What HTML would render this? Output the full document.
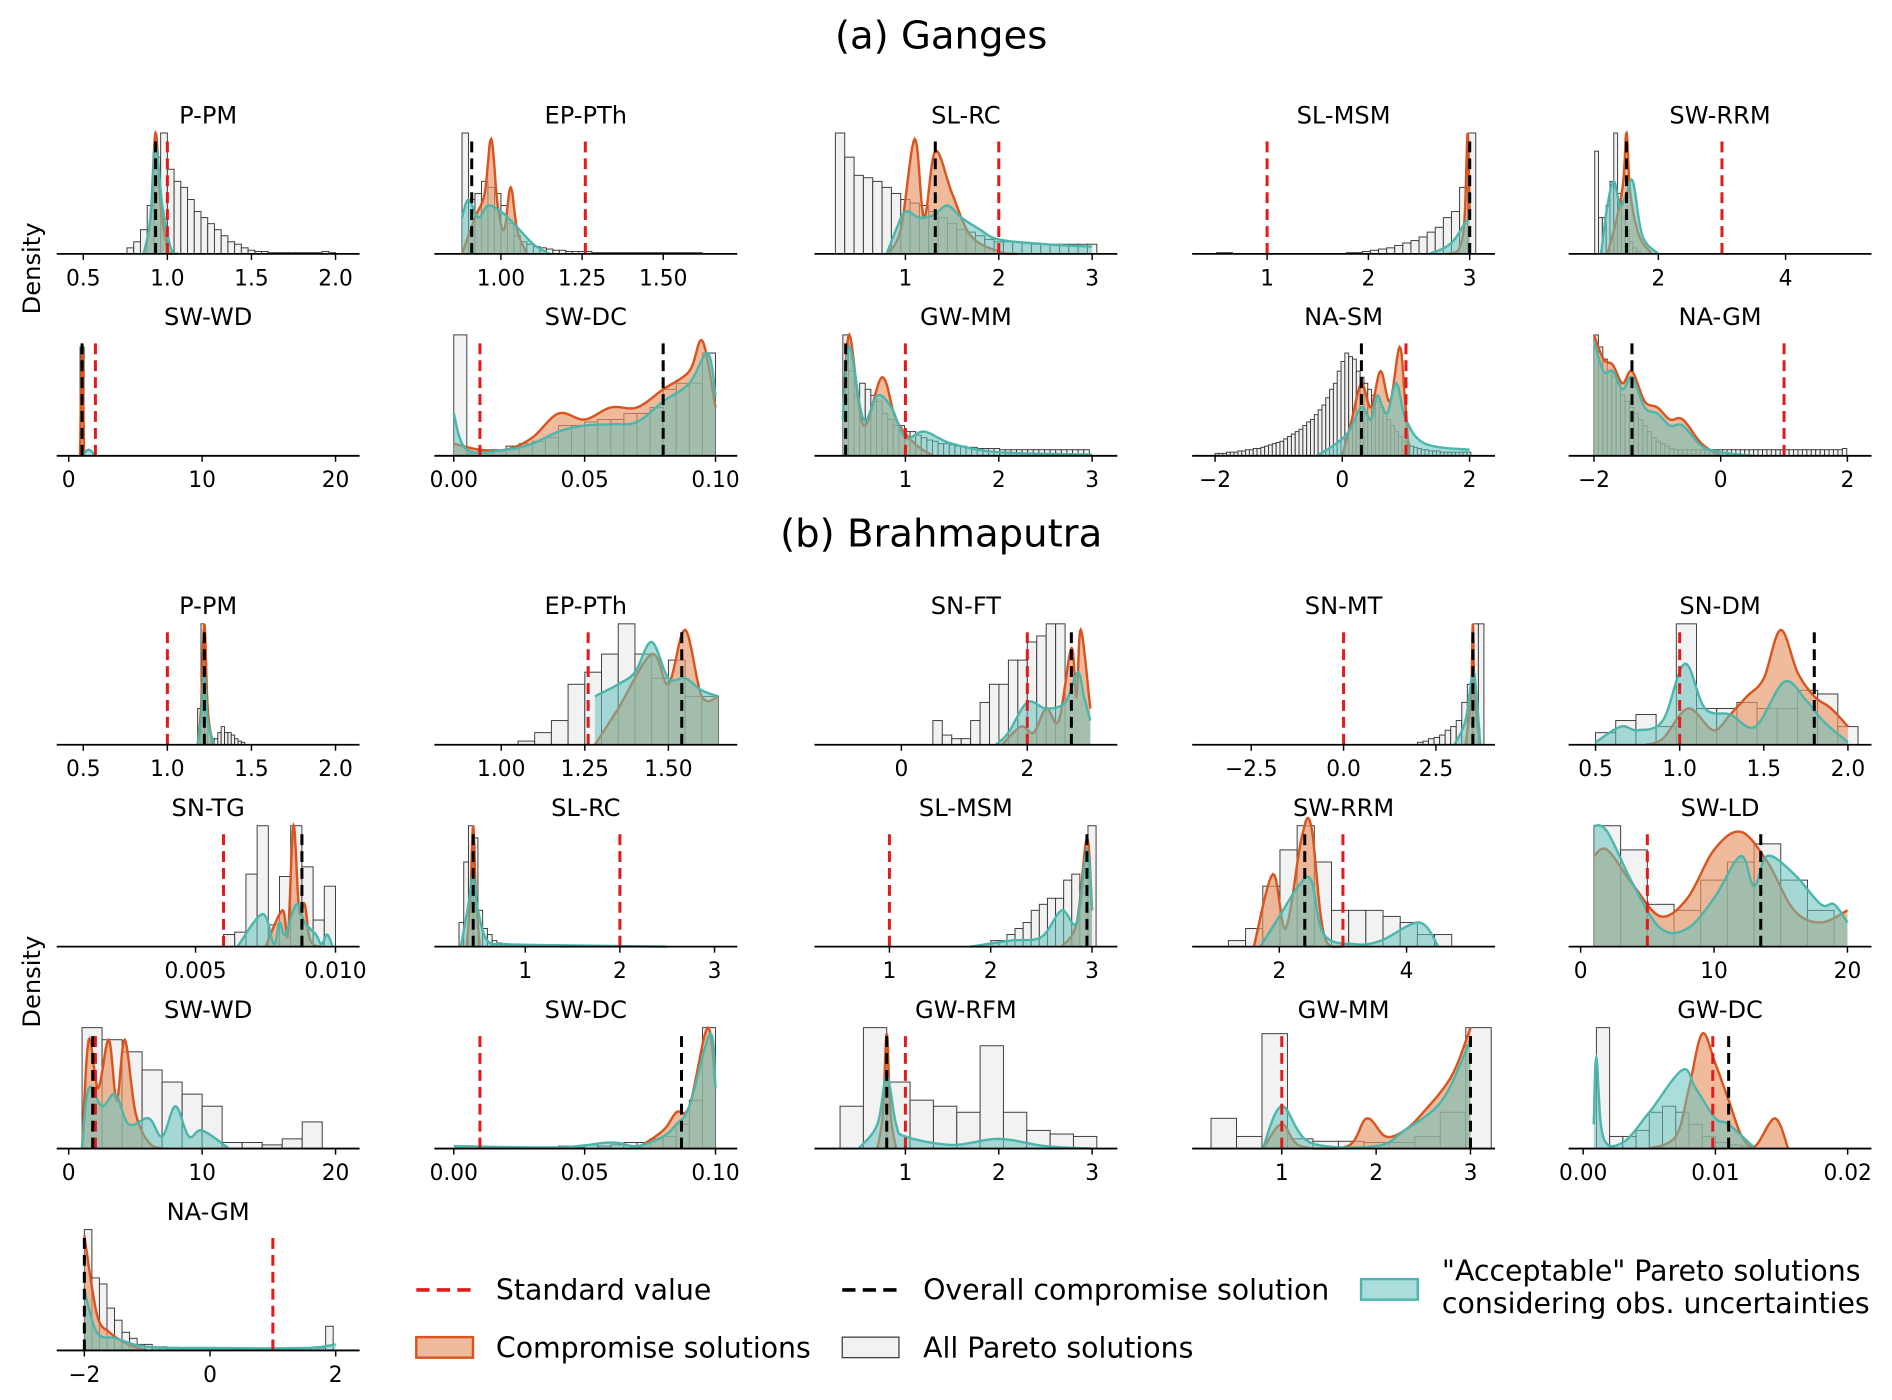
<!DOCTYPE html>
<html><head><meta charset="utf-8"><style>
html,body{margin:0;padding:0;background:#fff;}
svg{display:block;font-family:"Liberation Sans","DejaVu Sans",sans-serif;}
</style></head><body>
<svg id="fig" xmlns="http://www.w3.org/2000/svg" width="1892" height="1400" viewBox="0 0 1568 1158" preserveAspectRatio="none">
<text x="780" y="40" font-size="32" text-anchor="middle" font-family="DejaVu Sans, sans-serif">(a) Ganges</text>
<text x="780" y="452" font-size="32" text-anchor="middle" font-family="DejaVu Sans, sans-serif">(b) Brahmaputra</text>
<text transform="translate(33,222) rotate(-90)" font-size="20" text-anchor="middle" font-family="DejaVu Sans, sans-serif">Density</text>
<text transform="translate(33,812) rotate(-90)" font-size="20" text-anchor="middle" font-family="DejaVu Sans, sans-serif">Density</text>
<g id="panels"></g>
<g font-size="23.5" font-family="DejaVu Sans, sans-serif">
  <line x1="345" y1="1067" x2="395" y2="1067" stroke="#e31a1c" stroke-width="3" stroke-dasharray="11,6"/>
  <text x="411" y="1075">Standard value</text>
  <line x1="698" y1="1067" x2="748" y2="1067" stroke="#000" stroke-width="3" stroke-dasharray="11,6"/>
  <text x="765" y="1075">Overall compromise solution</text>
  <rect x="1128" y="1058" width="47" height="17" fill="rgba(102,194,187,0.55)" stroke="#4db6ac" stroke-width="2"/>
  <text x="1195" y="1059">"Acceptable" Pareto solutions</text>
  <text x="1195" y="1086">considering obs. uncertainties</text>
  <rect x="345" y="1106" width="47" height="17" fill="rgba(232,150,105,0.65)" stroke="#d9541e" stroke-width="2"/>
  <text x="411" y="1123">Compromise solutions</text>
  <rect x="698" y="1106" width="47" height="17" fill="#f2f2f2" stroke="#333" stroke-width="1"/>
  <text x="765" y="1123">All Pareto solutions</text>
</g>
</svg>
<script>
const titles = ["P-PM","EP-PTh","SL-RC","SL-MSM","SW-RRM","SW-WD","SW-DC","GW-MM","NA-SM","NA-GM",
 "P-PM","EP-PTh","SN-FT","SN-MT","SN-DM","SN-TG","SL-RC","SL-MSM","SW-RRM","SW-LD","SW-WD","SW-DC","GW-RFM","GW-MM","GW-DC","NA-GM"];
const xDomains = [[0.342,2.143],[0.795,1.728],[0.026,3.27],[0.26,3.25],[0.59,5.35],[-0.9,21.8],[-0.0074,0.1083],[0.026,3.27],[-2.36,2.4],[-2.4,2.38],
 [0.342,2.143],[0.80,1.706],[-1.38,3.43],[-4.1,4.1],[0.34,2.14],[0.00004,0.01086],[0.04,3.24],[0.26,3.25],[0.63,5.39],[-0.9,21.8],[-0.9,21.8],[-0.0074,0.1083],[0.026,3.27],[0.05,3.26],[-0.0011,0.0218],[-2.44,2.38]];
const tickVals = [[0.5,1,1.5,2],[1,1.25,1.5],[1,2,3],[1,2,3],[2,4],[0,10,20],[0,0.05,0.1],[1,2,3],[-2,0,2],[-2,0,2],
 [0.5,1,1.5,2],[1,1.25,1.5],[0,2],[-2.5,0,2.5],[0.5,1,1.5,2],[0.005,0.01],[1,2,3],[1,2,3],[2,4],[0,10,20],[0,10,20],[0,0.05,0.1],[1,2,3],[1,2,3],[0,0.01,0.02],[-2,0,2]];
const tickLabels = [["0.5","1.0","1.5","2.0"],["1.00","1.25","1.50"],["1","2","3"],["1","2","3"],["2","4"],["0","10","20"],["0.00","0.05","0.10"],["1","2","3"],["\u22122","0","2"],["\u22122","0","2"],
 ["0.5","1.0","1.5","2.0"],["1.00","1.25","1.50"],["0","2"],["\u22122.5","0.0","2.5"],["0.5","1.0","1.5","2.0"],["0.005","0.010"],["1","2","3"],["1","2","3"],["2","4"],["0","10","20"],["0","10","20"],["0.00","0.05","0.10"],["1","2","3"],["1","2","3"],["0.00","0.01","0.02"],["\u22122","0","2"]];
const stdVals = [1.0,1.26,2.0,1.0,3.0,2.0,0.01,1.0,1.0,1.0, 1.0,1.26,2.0,0.0,1.0,0.006,2.0,1.0,3.0,5.0,2.0,0.01,1.0,1.0,0.0098,1.0];
const compVals = [0.93,0.91,1.32,3.0,1.5,1.0,0.08,0.36,0.3,-1.4, 1.22,1.54,2.7,3.5,1.8,0.0088,0.45,2.95,2.4,13.5,1.8,0.087,0.8,3.0,0.011,-2.0];
const histStart = [0.76,0.88,0.25,0.5,1.0,0.85,0.0,0.33,-2.0,-2.0, 1.18,1.05,0.5,2.0,0.5,0.006,0.3,2.0,1.2,1.0,1.0,0.04,0.3,0.25,0.001,-2.0];
const histWidth = [0.04,0.02,0.1,0.08,0.06,0.3,0.005,0.06,0.06,0.07, 0.02,0.05,0.15,0.15,0.12,0.0004,0.05,0.08,0.27,2.0,1.5,0.005,0.25,0.27,0.001,0.12];
const histCounts = [
 [0.05,0.1,0.2,0.4,0.8,1.0,0.7,0.6,0.55,0.45,0.35,0.3,0.25,0.2,0.15,0.1,0.08,0.05,0.03,0.02,0.02,0.01,0.01,0.01,0.01,0.01,0.01,0.01,0.01,0.02,0.01],
 [1.0,0.45,0.5,0.6,0.55,0.5,0.4,0.25,0.15,0.1,0.08,0.06,0.05,0.04,0.03,0.03,0.02,0.02,0.02,0.02,0.01,0.01,0.01,0.01,0.01,0.01,0.01,0.01,0.01,0.01,0.01,0.01,0.01,0.01,0.01,0.01,0.01],
 [1.0,0.8,0.65,0.63,0.6,0.55,0.5,0.45,0.42,0.4,0.35,0.3,0.25,0.2,0.18,0.15,0.12,0.1,0.1,0.1,0.09,0.08,0.08,0.08,0.08,0.08,0.08,0.08],
 [0.01,0.01,0,0,0,0,0,0,0,0,0,0,0,0,0,0,0.01,0.01,0.02,0.03,0.04,0.05,0.07,0.09,0.11,0.14,0.18,0.22,0.3,0.35,0.55,1.0],
 [0.85,0.3,0.3,0.4,0.6,1.0,0.5,0.3,0.2,0.1,0.05,0.02],
 [0.9],
 [1.0,0.02,0.05,0.05,0.08,0.1,0.12,0.15,0.25,0.25,0.28,0.3,0.3,0.35,0.35,0.4,0.55,0.6,0.6,0.85],
 [1.0,0.7,0.5,0.6,0.55,0.5,0.45,0.35,0.3,0.25,0.25,0.2,0.2,0.17,0.15,0.13,0.12,0.1,0.1,0.09,0.08,0.08,0.07,0.07,0.06,0.06,0.06,0.06,0.05,0.05,0.05,0.05,0.05,0.05,0.05,0.05,0.05,0.05,0.05,0.05,0.05,0.05,0.05,0.05],
 [0.02,0.02,0.02,0.03,0.03,0.03,0.04,0.04,0.05,0.05,0.06,0.06,0.07,0.08,0.09,0.1,0.11,0.12,0.14,0.16,0.18,0.2,0.22,0.25,0.28,0.3,0.34,0.38,0.42,0.48,0.55,0.6,0.7,0.78,0.85,0.82,0.8,0.7,0.65,0.6,0.55,0.5,0.45,0.4,0.35,0.3,0.25,0.2,0.16,0.12,0.1,0.08,0.07,0.06,0.05,0.05,0.04,0.04,0.04,0.03,0.03,0.03,0.03,0.03,0.03,0.03,0.03],
 [1.0,0.9,0.8,0.7,0.65,0.6,0.5,0.45,0.4,0.35,0.3,0.25,0.2,0.15,0.12,0.1,0.08,0.06,0.05,0.05,0.05,0.05,0.05,0.05,0.05,0.05,0.05,0.05,0.05,0.05,0.05,0.05,0.05,0.05,0.05,0.05,0.05,0.05,0.05,0.05,0.05,0.05,0.05,0.05,0.05,0.05,0.05,0.05,0.05,0.05,0.05,0.05,0.05,0.05,0.05,0.05,0.06],
 [0.3,1.0,0.4,0.1,0.05,0.05,0.1,0.15,0.1,0.1,0.08,0.05,0.03,0.02],
 [0.03,0.1,0.2,0.5,0.6,0.75,1.0,0.75,0.55,0.7,0.4,0.4],
 [0.2,0.08,0.05,0.05,0.2,0.35,0.5,0.5,0.7,0.7,0.85,0.9,1.0,1.0],
 [0.02,0.03,0.05,0.06,0.08,0.12,0.15,0.2,0.35,0.5,1.0,1.0],
 [0.1,0.2,0.25,0.15,1.0,0.3,0.3,0.35,0.3,0.3,0.45,0.42,0.15],
 [0.1,0.12,0.6,1.0,0.18,0.58,1.0,0.66,0.22,0.5],
 [0.2,0.7,1.0,0.9,0.3,0.15,0.1,0.05,0.03,0.02,0.02,0.01],
 [0.05,0.05,0.1,0.15,0.2,0.3,0.35,0.4,0.4,0.55,0.6,0.5,1.0],
 [0.05,0.15,0.5,0.8,1.0,0.7,0.3,0.3,0.3,0.25,0.2,0.1,0.1],
 [1.0,0.8,0.35,0.3,0.55,0.7,0.85,0.55,0.3],
 [1.0,0.9,0.8,0.65,0.55,0.45,0.35,0.05,0.05,0.03,0.08,0.22],
 [0.02,0.01,0.03,0.02,0.03,0.05,0.05,0.08,0.1,0.2,0.4,1.0],
 [0.35,1.0,0.55,0.4,0.35,0.3,0.85,0.3,0.15,0.12,0.1],
 [0.25,0.1,0.95,0.08,0.06,0.06,0.05,0.05,0.1,0.3,1.0],
 [1.0,0.1,0.1,0.15,0.3,0.35,0.3,0.2,0.1,0.05,0.03,0.02],
 [1.0,0.6,0.55,0.35,0.25,0.15,0.1,0.05,0.05,0.03,0.03,0.02,0.02,0.02,0.02,0.02,0.02,0.02,0.02,0.02,0.02,0.02,0.02,0.02,0.02,0.02,0.02,0.02,0.02,0.02,0.02,0.02,0.2]
];
const orangePts = [
 [[0.86,0],[0.9,0.3],[0.93,1.0],[0.96,0.4],[1.0,0.05],[1.03,0]],
 [[0.88,0],[0.92,0.3],[0.95,0.5],[0.97,0.95],[0.99,0.4],[1.01,0.2],[1.03,0.55],[1.05,0.2],[1.08,0]],
 [[0.8,0],[0.95,0.2],[1.1,0.95],[1.2,0.3],[1.32,0.85],[1.5,0.5],[1.7,0.15],[2.0,0.02],[2.2,0]],
 [[2.8,0],[2.9,0.05],[2.95,0.3],[2.98,1.0],[3.0,0.3]],
 [[1.2,0],[1.35,0.3],[1.45,0.6],[1.5,1.0],[1.56,0.5],[1.7,0.15],[1.9,0]],
 [[0.85,0],[1.0,0.9],[1.15,0]],
 [[0.0,0.1],[0.01,0.05],[0.02,0.05],[0.03,0.15],[0.04,0.35],[0.05,0.3],[0.06,0.4],[0.07,0.4],[0.08,0.55],[0.09,0.7],[0.095,0.95],[0.1,0.4]],
 [[0.33,0.3],[0.4,1.0],[0.55,0.25],[0.75,0.65],[0.9,0.3],[1.1,0.1],[1.3,0]],
 [[0.0,0],[0.15,0.3],[0.3,0.6],[0.45,0.4],[0.6,0.7],[0.75,0.45],[0.9,0.9],[0.98,0.5],[1.05,0]],
 [[-2.0,1.0],[-1.85,0.8],[-1.7,0.75],[-1.55,0.6],[-1.4,0.7],[-1.2,0.45],[-1.0,0.4],[-0.8,0.3],[-0.6,0.3],[-0.3,0.1],[0,0]],
 [[1.18,0],[1.2,0.3],[1.22,1.0],[1.24,0.3],[1.27,0]],
 [[1.28,0],[1.35,0.3],[1.45,0.75],[1.5,0.5],[1.55,0.95],[1.6,0.4],[1.65,0.4]],
 [[1.6,0],[1.9,0.15],[2.1,0.1],[2.3,0.3],[2.5,0.2],[2.7,0.8],[2.78,0.4],[2.85,0.95],[3.0,0.3]],
 [[3.3,0],[3.45,0.4],[3.5,1.0],[3.55,0.4],[3.7,0]],
 [[0.8,0],[0.9,0.05],[1.05,0.3],[1.2,0.12],[1.3,0.25],[1.4,0.4],[1.5,0.55],[1.6,0.95],[1.7,0.6],[1.8,0.4],[1.9,0.3],[2.0,0.15]],
 [[0.0075,0],[0.0081,0.3],[0.0083,0.1],[0.0085,1.0],[0.0087,0.3],[0.0089,0.35],[0.0091,0.05],[0.0095,0]],
 [[0.38,0],[0.42,0.4],[0.45,1.0],[0.48,0.4],[0.52,0]],
 [[2.7,0],[2.85,0.2],[2.95,0.9],[3.0,0.3]],
 [[1.6,0],[1.9,0.6],[2.1,0.15],[2.35,0.9],[2.5,1.0],[2.7,0.1],[3.0,0]],
 [[1,0.75],[2,0.8],[4,0.5],[6,0.25],[8,0.4],[10,0.8],[12,0.95],[14,0.7],[16,0.3],[18,0.2],[20,0.3]],
 [[1,0],[1.5,0.9],[2.2,0.5],[3,0.9],[3.6,0.4],[4.2,0.9],[5,0.3],[6,0.05],[7,0]],
 [[0.07,0],[0.08,0.15],[0.085,0.3],[0.09,0.35],[0.097,1.0],[0.1,0.5]],
 [[0.7,0],[0.76,0.3],[0.8,0.95],[0.84,0.3],[0.9,0]],
 [[0.8,0],[1.0,0.2],[1.2,0.02],[1.7,0.02],[1.9,0.25],[2.1,0.1],[2.3,0.15],[2.5,0.3],[2.8,0.6],[3.0,1.0]],
 [[0.005,0],[0.007,0.1],[0.008,0.5],[0.009,0.95],[0.01,0.7],[0.011,0.4],[0.012,0.1],[0.013,0.02],[0.0145,0.25],[0.0155,0]],
 [[-2.0,0.95],[-1.8,0.3],[-1.6,0.15],[-1.3,0.05],[-1.0,0]]
];
const tealPts = [
 [[0.86,0],[0.9,0.3],[0.93,0.9],[0.97,0.4],[1.02,0.05],[1.06,0]],
 [[0.88,0.3],[0.9,0.45],[0.93,0.3],[0.96,0.4],[1.0,0.35],[1.04,0.25],[1.1,0.08],[1.15,0]],
 [[0.8,0],[0.9,0.2],[1.0,0.35],[1.15,0.3],[1.3,0.32],[1.45,0.4],[1.6,0.3],[1.8,0.2],[2.0,0.12],[2.5,0.08],[3.0,0.06]],
 [[2.6,0],[2.75,0.05],[2.85,0.12],[2.95,0.25],[3.0,0.3]],
 [[1.1,0],[1.2,0.4],[1.3,0.6],[1.4,0.4],[1.5,0.5],[1.6,0.6],[1.75,0.15],[2.0,0]],
 [[1.0,0],[1.5,0.05],[2.0,0]],
 [[0.0,0.35],[0.005,0.05],[0.02,0.05],[0.03,0.1],[0.04,0.2],[0.05,0.25],[0.06,0.26],[0.07,0.28],[0.08,0.45],[0.09,0.6],[0.097,0.85],[0.1,0.5]],
 [[0.33,0.3],[0.4,0.9],[0.55,0.3],[0.7,0.5],[0.85,0.4],[1.0,0.15],[1.2,0.2],[1.5,0.1],[2.0,0.03],[3.0,0.01]],
 [[-0.4,0],[-0.1,0.1],[0.1,0.2],[0.3,0.4],[0.45,0.3],[0.55,0.5],[0.7,0.35],[0.85,0.6],[1.0,0.3],[1.3,0.1],[2.0,0.05]],
 [[-2.0,0.95],[-1.85,0.7],[-1.7,0.7],[-1.55,0.55],[-1.4,0.65],[-1.2,0.4],[-1.0,0.35],[-0.8,0.25],[-0.6,0.25],[-0.3,0.08],[0,0.03],[0.5,0]],
 [[1.18,0],[1.2,0.2],[1.22,0.6],[1.24,0.2],[1.28,0]],
 [[1.28,0.4],[1.35,0.5],[1.4,0.6],[1.45,0.85],[1.5,0.55],[1.55,0.55],[1.6,0.45],[1.65,0.4]],
 [[1.5,0],[1.7,0.1],[2.0,0.35],[2.3,0.3],[2.6,0.35],[2.8,0.6],[2.9,0.4],[3.0,0.2]],
 [[3.0,0],[3.3,0.2],[3.5,0.6],[3.6,0.4],[3.7,0]],
 [[0.5,0.02],[0.65,0.15],[0.75,0.12],[0.9,0.2],[1.03,0.67],[1.15,0.3],[1.3,0.25],[1.45,0.15],[1.62,0.52],[1.75,0.37],[1.85,0.2],[2.0,0.02]],
 [[0.0065,0],[0.0074,0.27],[0.0078,0.02],[0.008,0.2],[0.0082,0.1],[0.0086,0.35],[0.0089,0.2],[0.0093,0.1],[0.0095,0.02],[0.0097,0.1],[0.0099,0]],
 [[0.32,0],[0.4,0.35],[0.45,0.6],[0.5,0.3],[0.6,0.05],[0.8,0.02],[1.5,0.01],[2.5,0]],
 [[1.8,0],[2.2,0.05],[2.5,0.08],[2.7,0.3],[2.85,0.2],[2.95,0.8],[3.0,0.3]],
 [[1.7,0],[2.0,0.25],[2.3,0.5],[2.5,0.55],[2.7,0.1],[3.2,0.02],[3.6,0.05],[4.2,0.2],[4.5,0]],
 [[1,1.0],[2,0.95],[4,0.5],[6,0.15],[8,0.15],[10,0.4],[12,0.75],[13,0.5],[14,0.75],[16,0.6],[18,0.35],[19,0.35],[20,0.2]],
 [[1,0],[1.5,0.5],[2.5,0.35],[3.5,0.45],[4.5,0.2],[6,0.25],[7,0.1],[8,0.35],[9,0.1],[10,0.15],[12,0]],
 [[0.0,0.02],[0.04,0.01],[0.06,0.05],[0.07,0.02],[0.08,0.1],[0.085,0.2],[0.09,0.35],[0.098,0.95],[0.1,0.5]],
 [[0.5,0],[0.7,0.2],[0.8,0.6],[0.9,0.2],[1.0,0.1],[1.5,0.03],[2.0,0.08],[2.5,0.02],[3.0,0]],
 [[0.8,0],[1.0,0.35],[1.3,0.05],[2.0,0.02],[2.3,0.15],[2.7,0.4],[3.0,0.9]],
 [[0.0008,0.2],[0.001,0.75],[0.0015,0.1],[0.003,0.05],[0.005,0.3],[0.0075,0.65],[0.0085,0.5],[0.01,0.25],[0.011,0.2],[0.013,0]],
 [[-2.0,0.5],[-1.8,0.15],[-1.5,0.1],[-1.0,0.03],[0,0.02],[1.5,0.02],[2.0,0.05]]
];

const colX = [47,360,675,988,1300];
const rowBase = [210,377,616,783,950,1117];
const AXW = 251, HMAX = 100;
const NS = "http://www.w3.org/2000/svg";
const root = document.getElementById("panels");
function mk(tag, attrs, parent){
  const e = document.createElementNS(NS, tag);
  for (const k in attrs) e.setAttribute(k, attrs[k]);
  parent.appendChild(e);
  return e;
}
function smoothPath(pts, sx, sy){
  const out = [];
  for (let i=0;i<pts.length-1;i++){
    const p0=pts[Math.max(0,i-1)], p1=pts[i], p2=pts[i+1], p3=pts[Math.min(pts.length-1,i+2)];
    for (let t=0;t<1;t+=0.1){
      const t2=t*t, t3=t2*t;
      const f=(a,b,c,d)=>0.5*((2*b)+(-a+c)*t+(2*a-5*b+4*c-d)*t2+(-a+3*b-3*c+d)*t3);
      out.push([f(p0[0],p1[0],p2[0],p3[0]), Math.max(0,f(p0[1],p1[1],p2[1],p3[1]))]);
    }
  }
  out.push(pts[pts.length-1]);
  return out.map(p=>[sx(p[0]), sy(p[1])]);
}
titles.forEach((title, i) => {
  const row = i < 10 ? Math.floor(i/5) : 2 + Math.floor((i-10)/5);
  const col = i < 10 ? i%5 : (i-10)%5;
  const x0 = colX[col], base = rowBase[row];
  const dom = xDomains[i];
  const sx = v => x0 + (v-dom[0])/(dom[1]-dom[0])*AXW;
  const sy = v => base - v*HMAX;
  const g = mk("g", {}, root);
  
  
  const t = mk("text", {x: x0 + AXW/2, y: base-108, "font-size": 20, "text-anchor":"middle", "font-family":"DejaVu Sans, sans-serif"}, g);
  t.textContent = title;
  
  
  histCounts[i].forEach((c, k) => {
    if (c <= 0) return;
    const a = histStart[i] + k*histWidth[i], b = a + histWidth[i];
    const r = mk("rect", {x: sx(a), y: sy(c), width: Math.max(0.5, sx(b)-sx(a)), height: c*HMAX, fill:"#f2f2f2", stroke:"#3a3a3a", "stroke-width":0.8}, g);
    
    
  });
  [[orangePts[i],"rgba(232,150,105,0.65)","#d9541e",'compromise-density'],[tealPts[i],"rgba(102,194,187,0.55)","#4db6ac",'acceptable-density']].forEach(([pts,fill,stroke,nm]) => {
    const pp = smoothPath(pts, sx, sy);
    const line = "M" + pp.map(p=>p[0].toFixed(1)+","+p[1].toFixed(1)).join("L");
    const area = line + "L" + pp[pp.length-1][0].toFixed(1) + "," + base + "L" + pp[0][0].toFixed(1) + "," + base + "Z";
    const fa = mk("path", {d: area, fill: fill, stroke: "none"}, g);
    
    
    const fl = mk("path", {d: line, fill: "none", stroke: stroke, "stroke-width": 2}, g);
    
    
  });
  const sl = mk("line", {x1: sx(stdVals[i]), x2: sx(stdVals[i]), y1: base, y2: base-93, stroke:"#e31a1c", "stroke-width":2.5, "stroke-dasharray":"9,5"}, g);
  
  
  const cl = mk("line", {x1: sx(compVals[i]), x2: sx(compVals[i]), y1: base, y2: base-93, stroke:"#000", "stroke-width":2.5, "stroke-dasharray":"9,5"}, g);
  
  
  const ax = mk("line", {x1: x0, x2: x0+AXW, y1: base, y2: base, stroke:"#000", "stroke-width":1.5}, g);
  
  
  tickVals[i].forEach((v, k) => {
    const tk = mk("line", {x1: sx(v), x2: sx(v), y1: base, y2: base+5, stroke:"#000", "stroke-width":1.2}, g);
    
    
    const tl = mk("text", {x: sx(v), y: base+26, "font-size": 18, "text-anchor":"middle", "font-family":"DejaVu Sans, sans-serif"}, g);
    tl.textContent = tickLabels[i][k];
    
    
  });
});
</script>
</body></html>
